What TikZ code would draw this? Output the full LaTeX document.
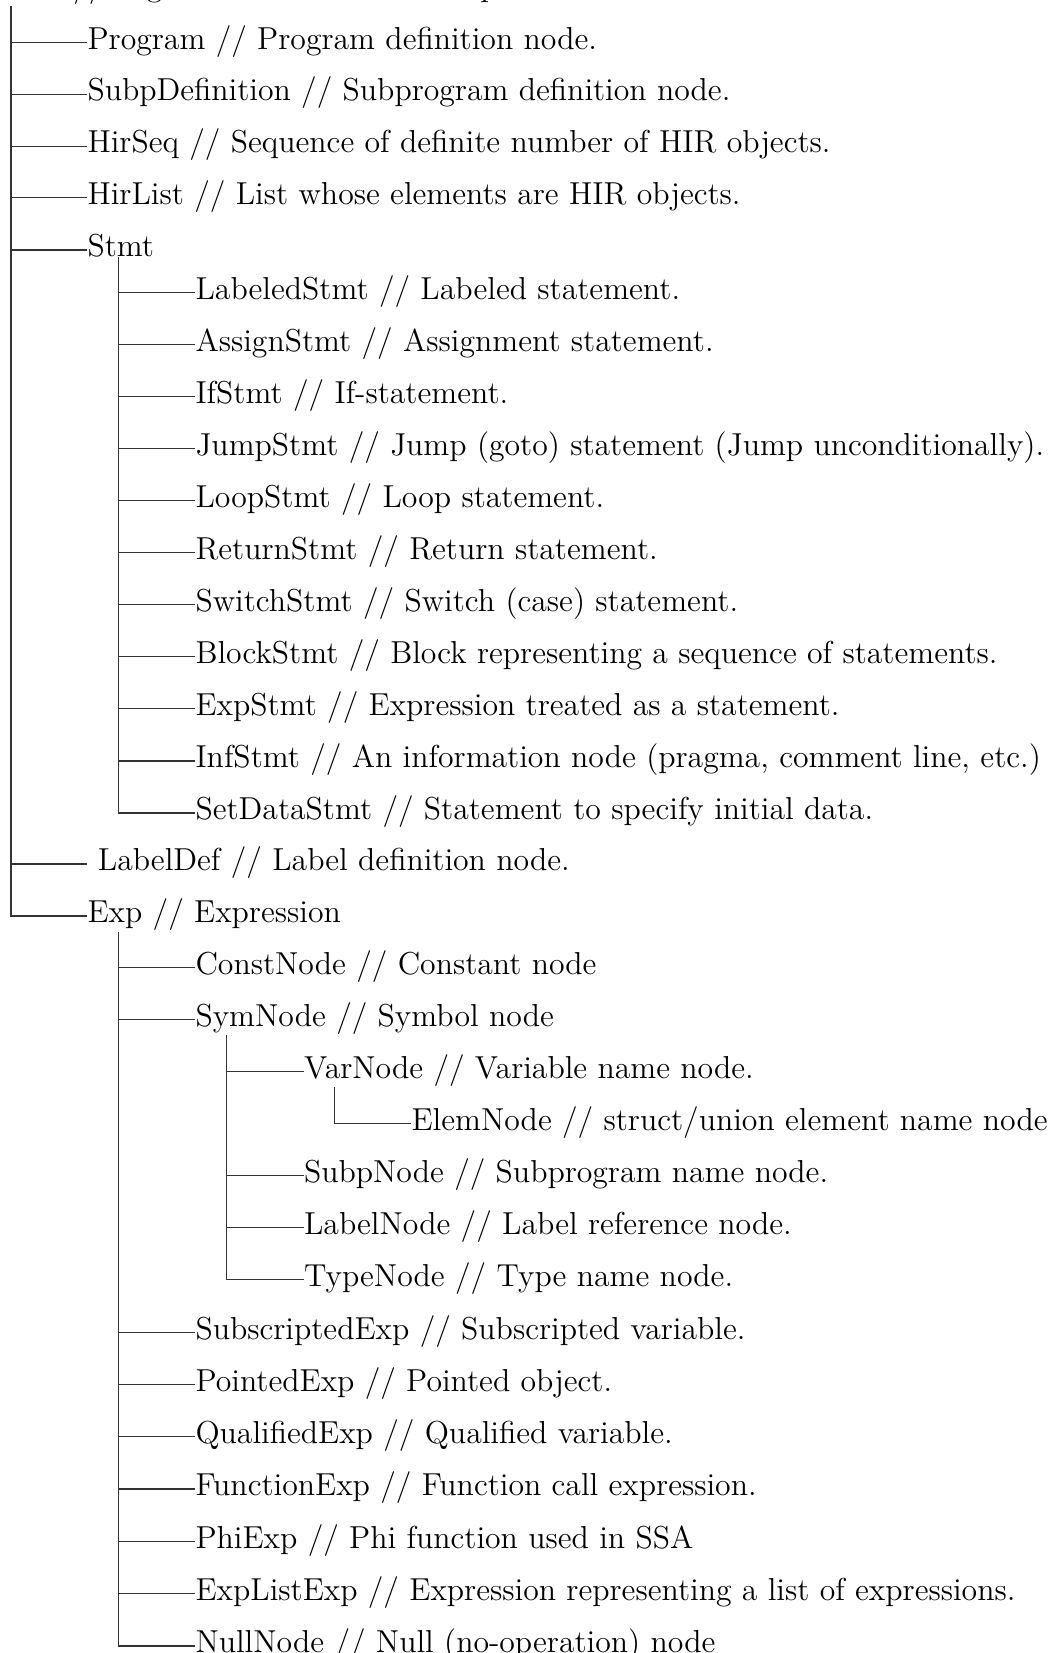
\documentclass[tikz,border=0pt]{standalone}
\begin{document}
\begin{tikzpicture}[x=0.378pt,y=-0.378pt,
  lbl/.style={anchor=west,inner sep=0pt,text height=0.7em,text depth=0.2em,
              font=\fontsize{12}{14.5}\selectfont},
  edge/.style={line width=0.4pt,draw=black!80}]
\useasboundingbox (0,0) rectangle (1052,1653);

% root of the class tree
\node[lbl] (root) at (5,-10) {HIR // High-level Intermediate Representation};

% level 1
\node[lbl] (prog)     at (87,42.5)  {Program // Program definition node.};
\node[lbl] (subpdef)  at (87,94.3)  {SubpDefinition // Subprogram definition node.};
\node[lbl] (hirseq)   at (87,146.1) {HirSeq // Sequence of definite number of HIR objects.};
\node[lbl] (hirlist)  at (87,197.9) {HirList // List whose elements are HIR objects.};
\node[lbl] (stmt)     at (87,250) {Stmt};
\node[lbl] (labeldef) at (87,864) {\ LabelDef // Label definition node.};
\node[lbl] (exp)      at (87,916) {Exp // Expression};

% statements
\node[lbl] (labeled) at (195,292.5) {LabeledStmt // Labeled statement.};
\node[lbl] (assign)  at (195,344.6) {AssignStmt // Assignment statement.};
\node[lbl] (ifst)    at (195,396.6) {IfStmt // If-statement.};
\node[lbl] (jump)    at (195,448.7) {JumpStmt // Jump (goto) statement (Jump unconditionally).};
\node[lbl] (loop)    at (195,500.7) {LoopStmt // Loop statement.};
\node[lbl] (ret)     at (195,552.8) {ReturnStmt // Return statement.};
\node[lbl] (switch)  at (195,604.8) {SwitchStmt // Switch (case) statement.};
\node[lbl] (block)   at (195,656.9) {BlockStmt // Block representing a sequence of statements.};
\node[lbl] (expst)   at (195,708.9) {ExpStmt // Expression treated as a statement.};
\node[lbl] (inf)     at (195,761)   {InfStmt // An information node (pragma, comment line, etc.)};
\node[lbl] (setdata) at (195,813)   {SetDataStmt // Statement to specify initial data.};

% expressions
\node[lbl] (const)   at (195,967.5)  {ConstNode // Constant node};
\node[lbl] (sym)     at (195,1019.5) {SymNode // Symbol node};
\node[lbl] (var)     at (303.5,1071.5) {VarNode // Variable name node.};
\node[lbl] (elem)    at (411,1123.5) {ElemNode // struct/union element name node};
\node[lbl] (subpn)   at (303.5,1175.5) {SubpNode // Subprogram name node.};
\node[lbl] (labeln)  at (303.5,1227.5) {LabelNode // Label reference node.};
\node[lbl] (typen)   at (303.5,1279.5) {TypeNode // Type name node.};
\node[lbl] (subscr)  at (195,1332.5) {SubscriptedExp // Subscripted variable.};
\node[lbl] (pointed) at (195,1384.5) {PointedExp // Pointed object.};
\node[lbl] (qual)    at (195,1436.8) {QualifiedExp // Qualified variable.};
\node[lbl] (func)    at (195,1489)   {FunctionExp // Function call expression.};
\node[lbl] (phi)     at (195,1541.5) {PhiExp // Phi function used in SSA};
\node[lbl] (explist) at (195,1593.8) {ExpListExp // Expression representing a list of expressions.};
\node[lbl] (null)    at (195,1646)   {NullNode // Null (no-operation) node};

% trunks
\coordinate (t0) at (11,6);
\coordinate (t1) at (118.5,257);
\coordinate (t2) at (118.5,932);
\coordinate (t3) at (226.5,1035);
\coordinate (t4) at (334.5,1087);

\draw[edge] (t0) |- (exp.west);
\foreach \n in {prog,subpdef,hirseq,hirlist,stmt,labeldef}
  \draw[edge] (\n.west -| t0) -- (\n.west);

\draw[edge] (t1) |- (setdata.west);
\foreach \n in {labeled,assign,ifst,jump,loop,ret,switch,block,expst,inf}
  \draw[edge] (\n.west -| t1) -- (\n.west);

\draw[edge] (t2) |- (null.west);
\foreach \n in {const,sym,subscr,pointed,qual,func,phi,explist}
  \draw[edge] (\n.west -| t2) -- (\n.west);

\draw[edge] (t3) |- (typen.west);
\foreach \n in {var,subpn,labeln}
  \draw[edge] (\n.west -| t3) -- (\n.west);

\draw[edge] (t4) |- (elem.west);
\end{tikzpicture}
\end{document}
